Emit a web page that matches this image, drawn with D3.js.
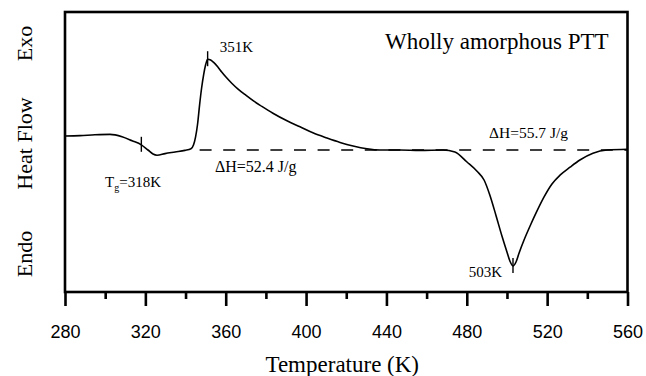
<!DOCTYPE html>
<html>
<head>
<meta charset="utf-8">
<script src="https://cdn.jsdelivr.net/npm/d3@7"></script>
<style>
  html, body { margin: 0; padding: 0; background: #fff; }
  svg { display: block; }
</style>
</head>
<body>
<svg id="chart" width="646" height="376"></svg>
<script>
// DSC trace of wholly amorphous PTT: temperature (K) vs heat flow (arb. units, exo up)
const temperature = [
  280, 287.5, 294.9, 302.4, 308.4, 313.4, 318, 321.3, 323.8, 325.8, 329.8, 334.8,
  339.7, 342.7, 344, 345, 346, 347, 348, 349, 350, 351, 352.5, 354, 356, 358,
  360, 363, 366, 370, 374, 378, 383.5, 390.5, 397, 403.4, 410.4, 416.9, 423.4,
  430.3, 436.8, 446.7, 456.7, 468.2, 474.1, 480.1, 485.1, 488.6, 491.5, 494.5,
  497.5, 500, 501.5, 503, 504.5, 506, 508.5, 511.5, 514.9, 518.4, 522.4, 526.4,
  531.4, 536.3, 542.8, 549.8, 560
];
const heatFlow = [
  0.35, 0.36, 0.38, 0.39, 0.33, 0.23, 0.13, 0.00, -0.10, -0.13, -0.09, -0.05,
  -0.01, 0.03, 0.13, 0.33, 0.65, 1.13, 1.55, 1.88, 2.13, 2.27, 2.25, 2.19, 2.08, 1.95,
  1.83, 1.67, 1.53, 1.37, 1.22, 1.09, 0.92, 0.73, 0.58, 0.43, 0.30, 0.19, 0.10,
  0.03, 0.00, 0.00, -0.01, 0.00, -0.05, -0.30, -0.53, -0.75, -1.13, -1.63,
  -2.15, -2.55, -2.78, -2.90, -2.80, -2.58, -2.25, -1.90, -1.53, -1.18, -0.85, -0.63,
  -0.43, -0.25, -0.08, 0.00, 0.02
];

// Transition temperatures marked on the trace
const markTemps = [318, 351, 503];
const markLabels = ["318K", "351K", "503K"];

// Enthalpies of cold crystallisation and melting
const enthalpyLabels = ["\u0394H=52.4 J/g", "\u0394H=55.7 J/g"];

// Straight baseline under the two peaks
const baselineTemps = [347, 560];
const baselineValue = 0;

const majorTicks = [280, 320, 360, 400, 440, 480, 520, 560];
const minorTicks = [300, 340, 380, 420, 460, 500, 540];

const svg = d3.select("#chart");
const plotLeft = 65, plotRight = 627.5, plotTop = 12, plotBottom = 292;

const x = d3.scaleLinear().domain([280, 560]).range([plotLeft, plotRight]);
const y = d3.scaleLinear().domain([-3.55, 3.45]).range([plotBottom, plotTop]);

const serif = "'Liberation Serif', 'Times New Roman', serif";
const sans = "'Liberation Sans', Arial, sans-serif";

// value of the trace at a temperature (linear between samples)
function traceAt(t) {
  const i = d3.bisectLeft(temperature, t);
  if (i <= 0) return heatFlow[0];
  if (i >= temperature.length) return heatFlow[heatFlow.length - 1];
  if (temperature[i] === t) return heatFlow[i];
  const t0 = temperature[i - 1], t1 = temperature[i];
  const f = (t - t0) / (t1 - t0);
  return heatFlow[i - 1] + f * (heatFlow[i] - heatFlow[i - 1]);
}

// dashed baseline
svg.append("line")
  .attr("x1", x(baselineTemps[0])).attr("x2", x(baselineTemps[1]))
  .attr("y1", y(baselineValue)).attr("y2", y(baselineValue))
  .attr("stroke", "#000").attr("stroke-width", 1.5)
  .attr("stroke-dasharray", "12,11.6");

// heat-flow trace
const pts = temperature.map((t, i) => [t, heatFlow[i]]);
svg.append("path")
  .datum(pts)
  .attr("fill", "none")
  .attr("stroke", "#000")
  .attr("stroke-width", 1.6)
  .attr("stroke-linejoin", "round")
  .attr("d", d3.line().x(d => x(d[0])).y(d => y(d[1])).curve(d3.curveMonotoneX));

// short vertical markers at the transitions
svg.append("g").selectAll("line")
  .data(markTemps)
  .join("line")
  .attr("x1", d => x(d)).attr("x2", d => x(d))
  .attr("y1", d => y(traceAt(d)) - 8)
  .attr("y2", d => y(traceAt(d)) + 7)
  .attr("stroke", "#000").attr("stroke-width", 1.4);

// frame
svg.append("rect")
  .attr("x", plotLeft).attr("y", plotTop)
  .attr("width", plotRight - plotLeft).attr("height", plotBottom - plotTop)
  .attr("fill", "none").attr("stroke", "#000").attr("stroke-width", 2.6);

// bottom axis: major and minor ticks
const axisMajor = d3.axisBottom(x).tickValues(majorTicks).tickSize(14).tickPadding(19)
  .tickFormat(d3.format("d"));
const gMajor = svg.append("g").attr("transform", `translate(0,${plotBottom})`).call(axisMajor);
gMajor.select(".domain").remove();
gMajor.selectAll(".tick line").attr("stroke-width", 2.6);
gMajor.selectAll(".tick text")
  .attr("font-family", sans).attr("font-size", 18).attr("fill", "#000");

const axisMinor = d3.axisBottom(x).tickValues(minorTicks).tickSize(7).tickFormat("");
const gMinor = svg.append("g").attr("transform", `translate(0,${plotBottom})`).call(axisMinor);
gMinor.select(".domain").remove();
gMinor.selectAll(".tick line").attr("stroke-width", 2.6);

// axis titles
svg.append("text")
  .attr("x", (plotLeft + plotRight) / 2 - 4).attr("y", 372)
  .attr("text-anchor", "middle")
  .attr("font-family", serif).attr("font-size", 23)
  .text("Temperature (K)");

[["Exo", 43.5], ["Heat Flow", 143.5], ["Endo", 254]].forEach(([t, cy]) => {
  svg.append("text")
    .attr("transform", `translate(32,${cy}) rotate(-90)`)
    .attr("text-anchor", "middle")
    .attr("font-family", serif).attr("font-size", 22)
    .text(t);
});

// sample name
svg.append("text")
  .attr("x", 385).attr("y", 49)
  .attr("font-family", serif).attr("font-size", 23)
  .text("Wholly amorphous PTT");

// transition labels
const tg = svg.append("text")
  .attr("x", 105).attr("y", 187)
  .attr("font-family", serif).attr("font-size", 15);
tg.append("tspan").text("T");
tg.append("tspan").attr("font-size", 10).attr("dy", 4).text("g");
tg.append("tspan").attr("dy", -4).text("=" + markLabels[0]);

svg.append("text")
  .attr("x", x(markTemps[1]) + 12).attr("y", 51.5)
  .attr("font-family", serif).attr("font-size", 15)
  .text(markLabels[1]);

svg.append("text")
  .attr("x", x(markTemps[2]) - 11).attr("y", 276.5)
  .attr("text-anchor", "end")
  .attr("font-family", serif).attr("font-size", 15)
  .text(markLabels[2]);

// enthalpy labels
svg.append("text")
  .attr("x", 215).attr("y", 172)
  .attr("font-family", serif).attr("font-size", 16)
  .text(enthalpyLabels[0]);

svg.append("text")
  .attr("x", 489).attr("y", 138)
  .attr("font-family", serif).attr("font-size", 15.5)
  .text(enthalpyLabels[1]);
</script>
</body>
</html>
